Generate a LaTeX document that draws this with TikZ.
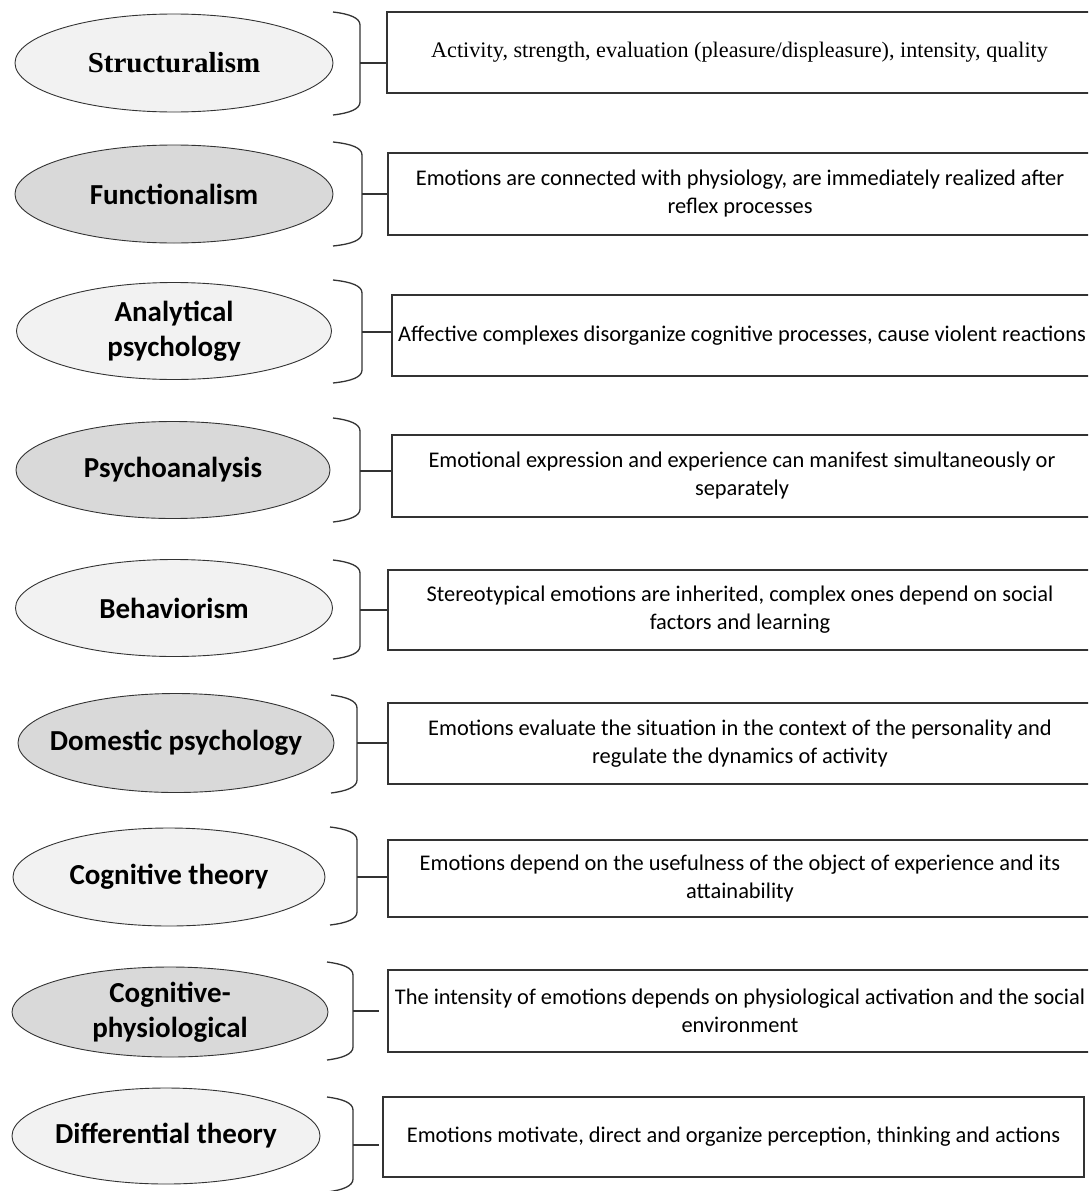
\documentclass[tikz,border=0pt]{standalone}
\usepackage{fontspec}
\setmainfont{Carlito}
\newfontfamily\timesf{Liberation Serif}
\usetikzlibrary{shapes.geometric}
\definecolor{lightfill}{HTML}{F2F2F2}
\definecolor{darkfill}{HTML}{D9D9D9}
\definecolor{linec}{HTML}{333333}
\newcommand\drawbrk[6]{%
  \draw[bracket] (#1,#3) .. controls ({#2-10},{#3+2}) and (#2,{#3+6}) .. (#2,{#3+13})
    -- (#2,{#4-13}) .. controls (#2,{#4-6}) and ({#2-10},{#4-2}) .. (#1,#4);
  \coordinate (#6) at (#2,#5);}
\begin{document}
\begin{tikzpicture}[x=1pt,y=-1pt,
  school/.style={ellipse, draw=linec, line width=0.9pt, inner sep=0pt},
  lightschool/.style={school, fill=lightfill},
  darkschool/.style={school, fill=darkfill},
  schooltext/.style={inner sep=0pt, align=center, font=\fontsize{29}{35}\selectfont\bfseries},
  descbox/.style={draw=linec, line width=1.2pt, rectangle, inner sep=0pt, align=center,
    font=\fontsize{22.4}{28}\selectfont},
  bracket/.style={draw=linec, line width=1.3pt},
  link/.style={draw=linec, line width=1.3pt}]
\useasboundingbox (0,0) rectangle (1088,1191);
\fill[white] (0,0) rectangle (1088,1191);
\clip (0,0) rectangle (1088,1191);

% Row 1
\node[lightschool, minimum width=318pt, minimum height=98pt] (e1) at (174,63) {};
\node[schooltext, font=\timesf\fontsize{29}{35}\selectfont\bfseries] (t1) at (e1) {Structuralism};
\node[descbox, minimum width=705pt, minimum height=81pt, font=\timesf\fontsize{22.2}{27}\selectfont] (d1) at (739.5,52.5) {Activity, strength, evaluation (pleasure/displeasure), intensity, quality};
\drawbrk{333}{360}{12}{115}{63}{b1}
\draw[link] (b1) -- (b1 -| d1.west);

% Row 2
\node[darkschool, minimum width=318pt, minimum height=98pt] (e2) at (174,194) {};
\node[schooltext] (t2) at (e2) {Functionalism};
\node[descbox, minimum width=704pt, minimum height=82pt] (d2) at (740,194) {Emotions are connected with physiology, are immediately realized after\\reflex processes};
\drawbrk{333}{362}{142}{246}{194}{b2}
\draw[link] (b2) -- (b2 -| d2.west);

% Row 3
\node[lightschool, minimum width=315pt, minimum height=97pt] (e3) at (174,331) {};
\node[schooltext] (t3) at (e3) {Analytical\\psychology};
\node[descbox, minimum width=700pt, minimum height=81pt] (d3) at (742,335.5) {Affective complexes disorganize cognitive processes, cause violent reactions};
\drawbrk{333}{362}{280}{383}{332}{b3}
\draw[link] (b3) -- (b3 -| d3.west);

% Row 4
\node[darkschool, minimum width=314pt, minimum height=97pt] (e4) at (173,470) {};
\node[schooltext] (t4) at (e4) {Psychoanalysis};
\node[descbox, minimum width=700pt, minimum height=82pt] (d4) at (742,476) {Emotional expression and experience can manifest simultaneously or\\separately};
\drawbrk{333}{360}{418}{522}{471}{b4}
\draw[link] (b4) -- (b4 -| d4.west);

% Row 5
\node[lightschool, minimum width=317pt, minimum height=97pt] (e5) at (174,608) {};
\node[schooltext] (t5) at (e5) {Behaviorism};
\node[descbox, minimum width=704pt, minimum height=80pt] (d5) at (740,610) {Stereotypical emotions are inherited, complex ones depend on social\\factors and learning};
\drawbrk{333}{360}{560}{659}{610}{b5}
\draw[link] (b5) -- (b5 -| d5.west);

% Row 6
\node[darkschool, minimum width=316pt, minimum height=99pt] (e6) at (176,743) {};
\node[schooltext] (t6) at (e6) {Domestic psychology};
\node[descbox, minimum width=704pt, minimum height=81pt] (d6) at (740,743.5) {Emotions evaluate the situation in the context of the personality and\\regulate the dynamics of activity};
\drawbrk{331}{357}{695}{793}{743}{b6}
\draw[link] (b6) -- (b6 -| d6.west);

% Row 7
\node[lightschool, minimum width=312pt, minimum height=98pt] (e7) at (169,877) {};
\node[schooltext] (t7) at (e7) {Cognitive theory};
\node[descbox, minimum width=704pt, minimum height=77pt] (d7) at (740,878.5) {Emotions depend on the usefulness of the object of experience and its\\attainability};
\drawbrk{330}{357}{827}{925}{877}{b7}
\draw[link] (b7) -- (b7 -| d7.west);

% Row 8
\node[darkschool, minimum width=316pt, minimum height=90pt] (e8) at (170,1012) {};
\node[schooltext] (t8) at (e8) {Cognitive-\\physiological};
\node[descbox, minimum width=704pt, minimum height=82pt] (d8) at (740,1011) {The intensity of emotions depends on physiological activation and the social\\environment};
\drawbrk{327}{353}{962}{1060}{1011}{b8}
\draw[link] (b8) -- ++(26,0);

% Row 9
\node[lightschool, minimum width=308pt, minimum height=96pt] (e9) at (166,1136) {};
\node[schooltext] (t9) at (e9) {Differential theory};
\node[descbox, minimum width=701pt, minimum height=80pt] (d9) at (733.5,1137) {Emotions motivate, direct and organize perception, thinking and actions};
\drawbrk{327}{353}{1097}{1192}{1145}{b9}
\draw[link] (b9) -- ++(26,0);
\end{tikzpicture}
\end{document}
